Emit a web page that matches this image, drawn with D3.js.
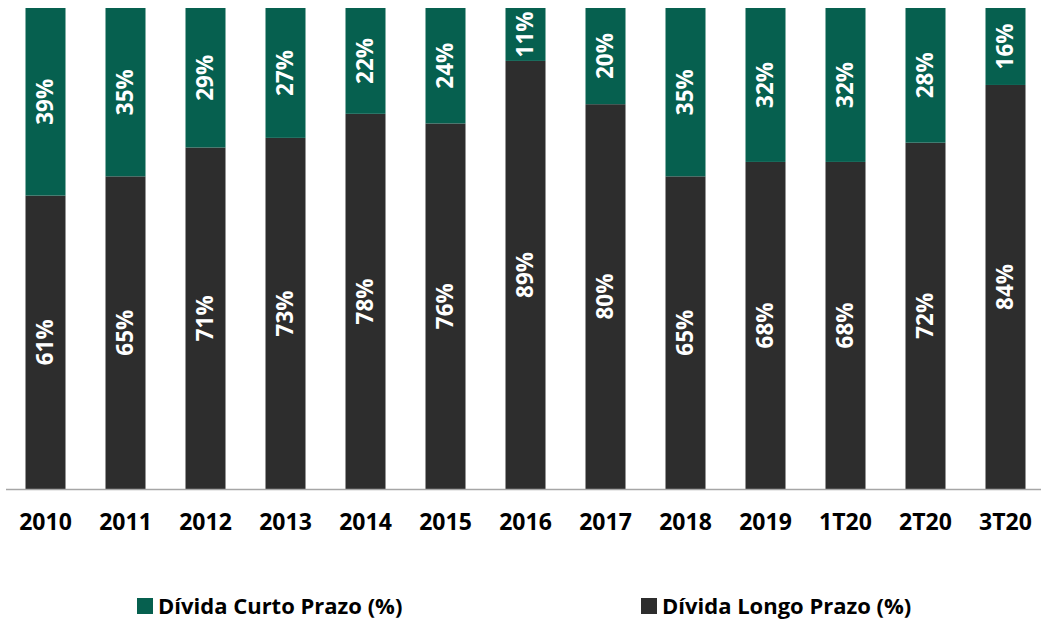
<!DOCTYPE html>
<html>
<head>
<meta charset="utf-8">
<script src="https://cdn.jsdelivr.net/npm/d3@7"></script>
<style>
  body { margin: 0; background: #fff; }
  text { font-family: "Open Sans", "Liberation Sans", sans-serif; font-weight: 700; }
</style>
</head>
<body>
<div id="chart"></div>
<script>
// data
const categories = ["2010", "2011", "2012", "2013", "2014", "2015", "2016", "2017", "2018", "2019", "1T20", "2T20", "3T20"];
const curtoPrazo = [39, 35, 29, 27, 22, 24, 11, 20, 35, 32, 32, 28, 16];
const longoPrazo = [61, 65, 71, 73, 78, 76, 89, 80, 65, 68, 68, 72, 84];
const seriesNames = ["Dívida Curto Prazo (%)", "Dívida Longo Prazo (%)"];

const colors = { curto: "#06604f", longo: "#2d2d2d" };

const svg = d3.select("#chart")
  .append("svg")
  .attr("width", 1041)
  .attr("height", 620);

const x = d3.scaleBand().domain(categories).range([5.5, 1045.5]).paddingInner(0.5).paddingOuter(0.25);
const y = d3.scaleLinear().domain([0, 100]).range([489, 8]);

const rows = categories.map((c, i) => ({ cat: c, longo: longoPrazo[i], curto: curtoPrazo[i] }));
const stack = d3.stack().keys(["longo", "curto"]);
const layers = stack(rows);

const g = svg.append("g");

layers.forEach(layer => {
  const key = layer.key;
  g.selectAll("rect." + key)
    .data(layer)
    .enter()
    .append("rect")
    .attr("class", key)
    .attr("x", d => x(d.data.cat))
    .attr("width", x.bandwidth())
    .attr("y", d => y(d[1]))
    .attr("height", d => y(d[0]) - y(d[1]))
    .attr("fill", colors[key]);

  g.selectAll("text." + key)
    .data(layer)
    .enter()
    .append("text")
    .attr("class", key)
    .attr("transform", d => {
      const cx = x(d.data.cat) + x.bandwidth() / 2;
      const cy = (y(d[0]) + y(d[1])) / 2;
      return `translate(${cx},${cy}) rotate(-90)`;
    })
    .attr("text-anchor", "middle")
    .attr("dy", "0.35em")
    .attr("fill", "#fff")
    .style("font-size", "22.5px")
    .text(d => d.data[key] + "%");
});

// x axis
const xAxis = svg.append("g")
  .attr("transform", "translate(0,489)")
  .call(d3.axisBottom(x).tickSize(0).tickPadding(25));
xAxis.select(".domain").attr("d", "M6,0.5H1041").attr("stroke", "#a6a6a6").attr("stroke-width", 1.5);
xAxis.selectAll("text")
  .style("font-size", "23px")
  .style("font-family", "'Open Sans', sans-serif")
  .style("font-weight", 700)
  .attr("fill", "#000");

// legend
const legendItems = [
  { name: seriesNames[0], color: colors.curto, x: 137 },
  { name: seriesNames[1], color: colors.longo, x: 641 }
];
const legend = svg.append("g");
legendItems.forEach(item => {
  legend.append("rect")
    .attr("x", item.x)
    .attr("y", 598)
    .attr("width", 16)
    .attr("height", 16)
    .attr("fill", item.color);
  legend.append("text")
    .attr("x", item.x + 21)
    .attr("y", 606)
    .attr("dy", "0.35em")
    .style("font-size", "22px")
    .attr("fill", "#000")
    .text(item.name);
});
</script>
</body>
</html>
